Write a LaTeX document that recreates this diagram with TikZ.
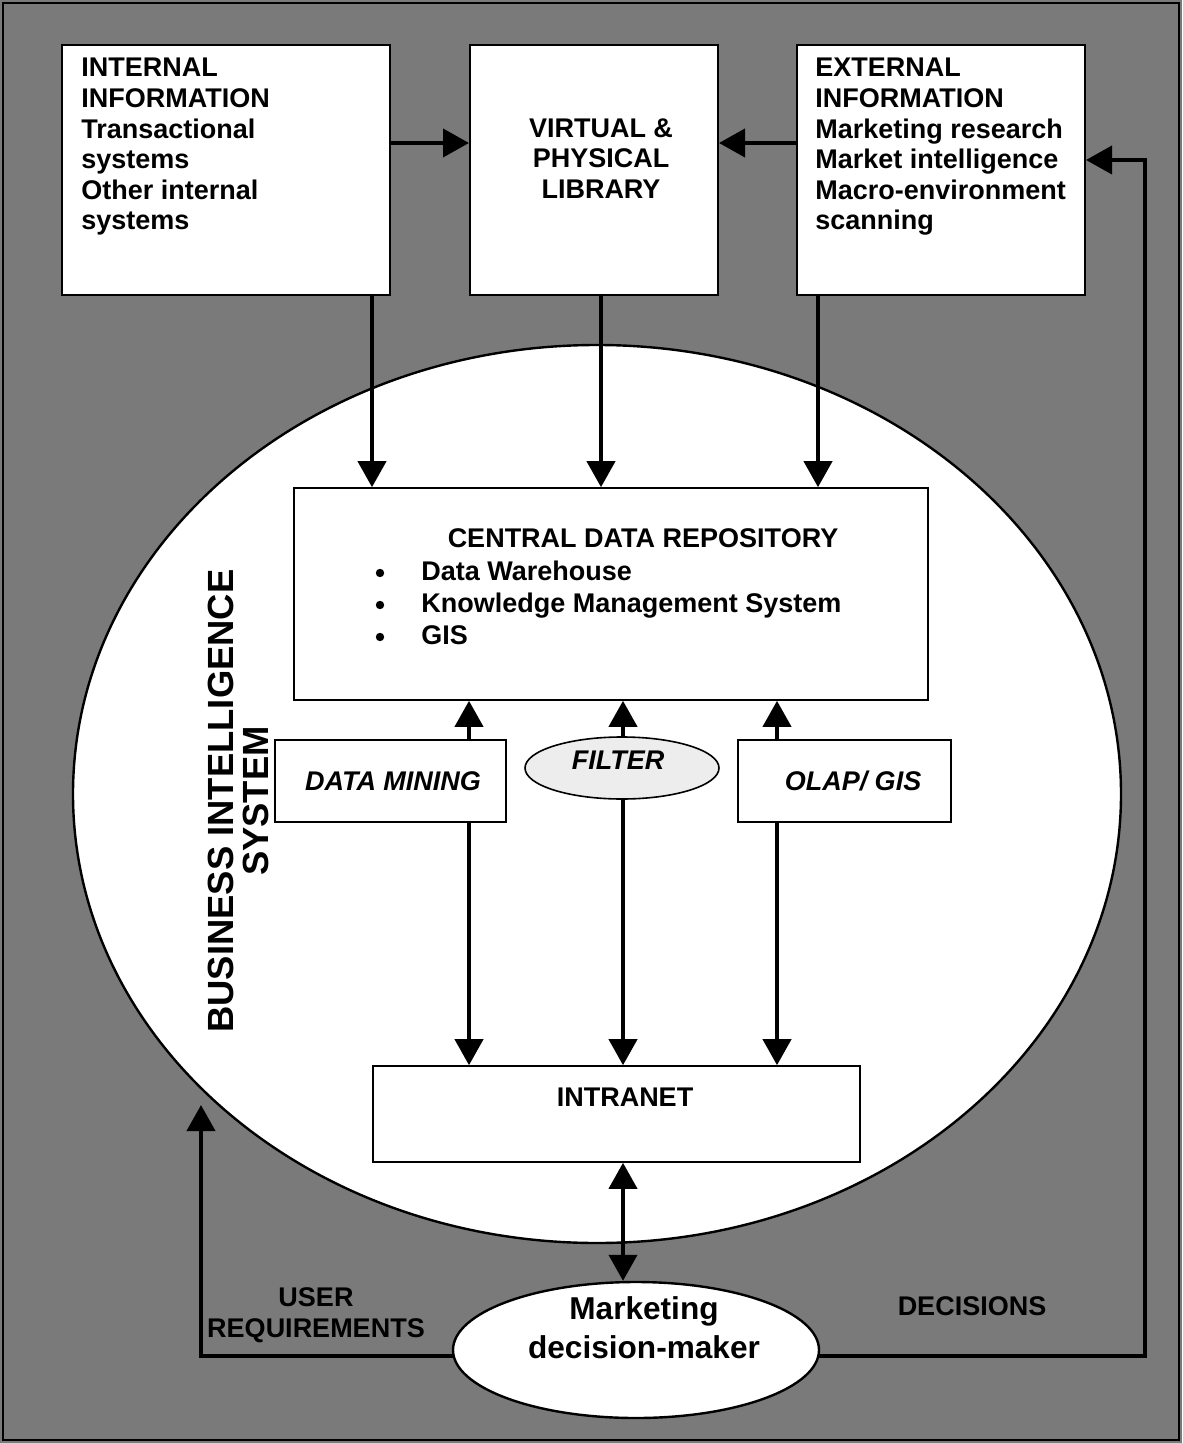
\documentclass[tikz,border=0pt]{standalone}
\usepackage{fontspec}
\setmainfont{Liberation Sans}
\usetikzlibrary{arrows.meta,shapes.geometric}

\begin{document}
\begin{tikzpicture}[x=0.5pt,y=-0.5pt,
  panel/.style={draw=black, line width=1pt, fill=white, inner sep=0pt},
  inbox/.style={draw=black, line width=0.8pt, fill=white, inner sep=0pt},
  txt/.style={inner sep=0pt, font=\fontsize{13.5}{15.3}\selectfont\bfseries},
  itxt/.style={inner sep=0pt, font=\fontsize{13.5}{15.3}\selectfont\bfseries\itshape},
  tip/.style={-{Triangle[length=13pt,width=14pt]}},
  flow/.style={line width=2pt, tip},
  twoway/.style={line width=2pt, {Triangle[length=13pt,width=14pt]}-{Triangle[length=13pt,width=14pt]}},
  dot/.style={circle, fill=black, inner sep=0pt, minimum size=4.2pt},
]

% page and grey background
\useasboundingbox (0,0) rectangle (1182,1443);
\fill[black!52] (0,0) rectangle (1182,1443);
\draw[line width=0.6pt] (3,3) rectangle (1179,1440);

% business intelligence system
\node[ellipse, draw, line width=1.2pt, fill=white, inner sep=0pt,
      minimum width=524pt, minimum height=449pt] (bis) at (597,794) {};
\node[rotate=90, align=center, inner sep=0pt,
      font=\fontsize{18.2}{17.5}\selectfont\bfseries] (bis-t) at (238,801)
      {BUSINESS INTELLIGENCE\\SYSTEM};

% information sources
\node[panel, minimum width=164pt, minimum height=125pt] (int) at (226,170) {};
\node[txt, align=left, anchor=north west] (int-t) at (81,58)
  {INTERNAL\\INFORMATION\\Transactional\\systems\\Other internal\\systems};

\node[panel, minimum width=124pt, minimum height=125pt] (virt) at (594,170) {};
\node[txt, align=center, anchor=north] (virt-t) at (601,118)
  {VIRTUAL \&\\PHYSICAL\\LIBRARY};

\node[panel, minimum width=144pt, minimum height=125pt] (ext) at (941,170) {};
\node[txt, align=left, anchor=north west] (ext-t) at (815,58)
  {EXTERNAL\\INFORMATION\\Marketing research\\Market intelligence\\Macro-environment\\scanning};

% central data repository
\node[inbox, minimum width=317pt, minimum height=106pt] (cdr) at (611,594) {};
\node[txt, anchor=base] (cdr-t) at (643,547) {CENTRAL DATA REPOSITORY};
\node[dot] (b1) at (380,573) {};
\node[dot] (b2) at (380,605) {};
\node[dot] (b3) at (380,637) {};
\node[txt, anchor=base west] (i1) at (421,580) {Data Warehouse};
\node[txt, anchor=base west] (i2) at (421,612) {Knowledge Management System};
\node[txt, anchor=base west] (i3) at (421,644) {GIS};

% tools
\node[inbox, minimum width=115.5pt, minimum height=41pt] (dm) at (390.5,781) {};
\node[itxt] (dm-t) at (393,781) {DATA MINING};
\node[ellipse, draw, line width=0.8pt, fill=black!7, inner sep=0pt,
      minimum width=97pt, minimum height=31pt] (flt) at (622,768) {};
\node[itxt] (flt-t) at (618,760) {FILTER};
\node[inbox, minimum width=106.5pt, minimum height=41pt] (olap) at (844.5,781) {};
\node[itxt] (olap-t) at (853,781) {OLAP/ GIS};

% intranet
\node[inbox, minimum width=243.5pt, minimum height=48pt] (intra) at (616.5,1114) {};
\node[txt] (intra-t) at (625,1097) {INTRANET};

% decision maker
\node[ellipse, draw, line width=1.2pt, fill=white, inner sep=0pt,
      minimum width=183pt, minimum height=68pt] (mdm) at (636,1350) {};
\node[align=center, inner sep=0pt, font=\fontsize{15.8}{19.5}\selectfont\bfseries]
      (mdm-t) at (644,1328) {Marketing\\decision-maker};

% loop labels
\node[txt, align=center] (ur-t) at (316,1315) {USER\\REQUIREMENTS};
\node[txt] (dec-t) at (972,1306) {DECISIONS};

% columns of the vertical connectors
\coordinate (xa) at (372,0);
\coordinate (xb) at (601,0);
\coordinate (xc) at (818,0);
\coordinate (xd) at (469,0);
\coordinate (xe) at (623,0);
\coordinate (xf) at (777,0);
\coordinate (urtip) at (201,1105);
\coordinate (rc) at (1145,160);

% sources feeding the library
\draw[flow] ([yshift=13.5pt]int.east) -- ([yshift=13.5pt]virt.west);
\draw[flow] ([yshift=13.5pt]ext.west) -- ([yshift=13.5pt]virt.east);

% sources feeding the repository
\draw[flow] (int.south -| xa) -- (cdr.north -| xa);
\draw[flow] (virt.south -| xb) -- (cdr.north -| xb);
\draw[flow] (ext.south -| xc) -- (cdr.north -| xc);

% tools to repository
\draw[flow] (dm.north -| xd) -- (cdr.south -| xd);
\draw[flow] (flt.north -| xe) -- (cdr.south -| xe);
\draw[flow] (olap.north -| xf) -- (cdr.south -| xf);

% tools to intranet
\draw[flow] (dm.south -| xd) -- (intra.north -| xd);
\draw[flow] (flt.south -| xe) -- (intra.north -| xe);
\draw[flow] (olap.south -| xf) -- (intra.north -| xf);

% intranet and decision maker
\draw[twoway] (intra.south -| xe) -- (mdm.north -| xe);

% feedback loops
\draw[flow] (mdm.182) -| (urtip);
\draw[flow] (mdm.-2) -| (rc) -- ([yshift=5pt]ext.east);

\end{tikzpicture}
\end{document}
